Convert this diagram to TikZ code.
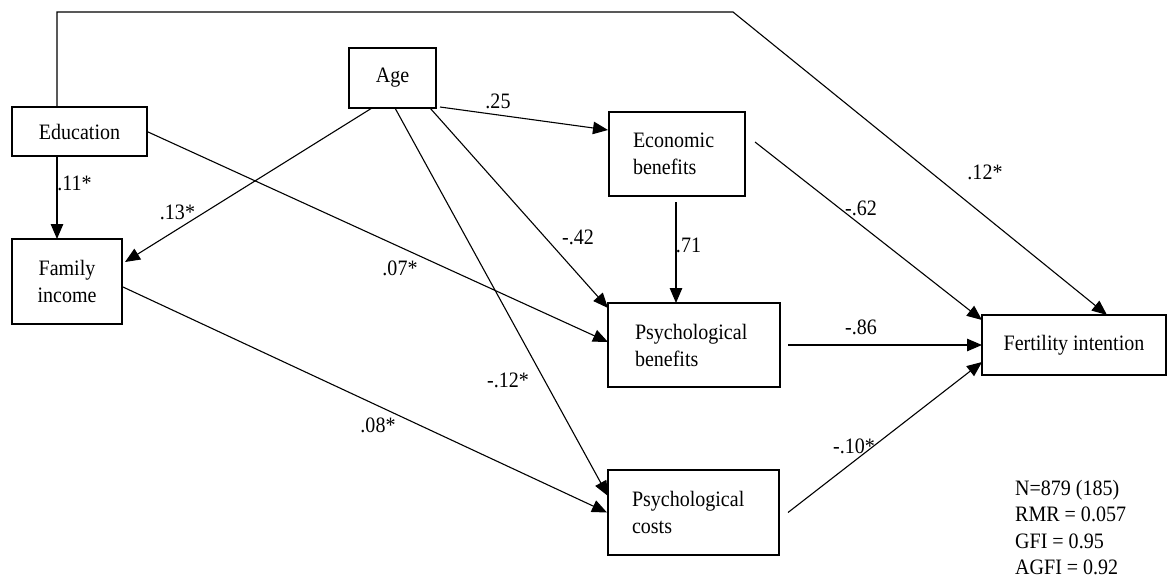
\documentclass[tikz,border=0pt]{standalone}
\usepackage{fontspec}
\setmainfont{Liberation Serif}[FakeStretch=0.91]
\usetikzlibrary{arrows.meta}
\tikzset{%
	every variable/.style={
		draw,
		rectangle,
		line width=1.2pt,
		outer sep=0pt,
		align=center,
		font=\fontsize{22}{27}\selectfont
	},
	left variable/.style={
		every variable,
		align=left
	},
	effect/.style={
		line width=1.1pt,
		-{Triangle[length=15pt,width=12.5pt]}
	},
	coefficient/.style={
		inner sep=0pt,
		font=\fontsize{22}{24}\selectfont
	},
}

\begin{document}
\begin{tikzpicture}[x=1pt, y=-1pt]
	\useasboundingbox (0,0) rectangle (1167,578);
	% variables
	\node[every variable, minimum width=135pt, minimum height=49pt] (educ) at (79.5,131.5) {Education};
	\node[every variable, minimum width=87pt, minimum height=60pt] (age) at (392.5,78) {Age};
	\node[every variable, minimum width=110pt, minimum height=85pt] (income) at (67,281.5) {Family\\income};
	\node[left variable, text width=88pt, inner xsep=24pt, minimum height=84pt] (econ) at (677,154) {Economic\\benefits};
	\node[left variable, text width=118pt, inner xsep=27pt, minimum height=84pt] (psyben) at (694,345) {Psychological\\benefits};
	\node[left variable, text width=123pt, inner xsep=24pt, minimum height=85pt] (psycost) at (693.5,512.5) {Psychological\\costs};
	\node[every variable, minimum width=184pt, minimum height=60pt] (fert) at (1074,345) {Fertility intention};
	
	% paths
	\coordinate (topleft) at (57,12);
	\coordinate (topright) at (733,12);
	\draw[effect] (educ.north -| topleft) -- (topleft) -- (topright) -- ([xshift=33pt]fert.north);
	\draw[effect] (educ.south -| topleft) -- (income.north -| topleft);
	\draw[effect] ([xshift=-20.5pt]age.south) -- ([xshift=3pt,yshift=19.5pt]income.east);
	\draw[effect] (educ.east) -- ([yshift=3pt]psyben.west);
	\draw[effect] ([xshift=1pt,yshift=-5.5pt]income.east) -- ([xshift=-1pt]psycost.west);
	\draw[effect] ([xshift=2.5pt]age.south) -- ([yshift=16.5pt]psycost.west);
	\draw[effect] ([xshift=37.5pt]age.south) -- ([yshift=-5pt]psyben.north west);
	\draw[effect] ([xshift=4pt,yshift=1pt]age.south east) -- ([xshift=-1pt,yshift=24pt]econ.west);
	\draw[effect] ([xshift=-1pt,yshift=-6pt]econ.south) -- ([xshift=-1pt]econ.south |- psyben.north);
	\draw[effect] ([xshift=10pt,yshift=12pt]econ.east) -- ([yshift=-5pt]fert.north west);
	\draw[effect] ([xshift=8pt]psyben.east) -- (psyben.east -| fert.west);
	\draw[effect] ([xshift=9pt]psycost.east) -- ([yshift=-17pt]fert.west);
	
	% coefficients
	\node[coefficient] (c-ei) at (74.5,183) {.11*};
	\node[coefficient] (c-ai) at (177.5,212) {.13*};
	\node[coefficient] (c-eb) at (400,268) {.07*};
	\node[coefficient] (c-ae) at (498,101) {.25};
	\node[coefficient] (c-ab) at (578,237) {-.42};
	\node[coefficient] (c-ac) at (508,380) {-.12*};
	\node[coefficient] (c-ic) at (378,425) {.08*};
	\node[coefficient] (c-bb) at (688.5,245) {.71};
	\node[coefficient] (c-ef) at (861,208) {-.62};
	\node[coefficient] (c-bf) at (861,327) {-.86};
	\node[coefficient] (c-cf) at (854,446.5) {-.10*};
	\node[coefficient] (c-tf) at (985,172) {.12*};
	
	% fit
	\node[coefficient, anchor=west, align=left, font=\fontsize{22}{26.5}\selectfont] (fit) at (1015,527.5)
		{N=879 (185)\\RMR = 0.057\\GFI = 0.95\\AGFI = 0.92};
\end{tikzpicture}
\end{document}
